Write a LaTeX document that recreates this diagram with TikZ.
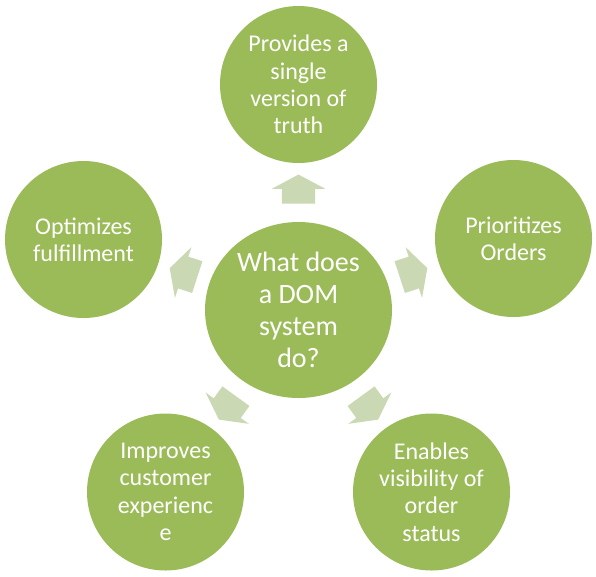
\documentclass[tikz,border=0pt]{standalone}
\usepackage{fontspec}
\setmainfont{Carlito}
\usetikzlibrary{shapes.geometric,shapes.arrows}
\definecolor{leafgreen}{HTML}{9BBB59}
\definecolor{palegreen}{HTML}{CAD9B3}
\begin{document}
\begin{tikzpicture}
[every node/.style={inner sep=0pt},
 outer/.style={circle, minimum size=157pt, fill=leafgreen, text=white, align=center, font=\fontsize{24}{27.3}\selectfont},
 hub/.style={ellipse, minimum width=187pt, minimum height=176pt, fill=leafgreen, text=white, align=center, font=\fontsize{28}{32}\selectfont},
 blockarrow/.style={single arrow, inner xsep=0pt, inner ysep=16.5pt, minimum height=29pt, single arrow head extend=10pt, single arrow tip angle=124, fill=palegreen}]
\useasboundingbox (0pt, 0pt) rectangle (596pt, -576pt);
\node (dom) [hub] at (298.5pt, -310.0pt) {What does\\a DOM\\system\\do?};
\node (truth) [outer] at (298.5pt, -84.5pt) {Provides a\\single\\version of\\truth};
\node (orders) [outer] at (513.5pt, -238.5pt) {Prioritizes\\Orders};
\node (status) [outer] at (431.5pt, -492.0pt) {Enables\\visibility of\\order\\status};
\node (customer) [outer] at (165.5pt, -492.0pt) {Improves\\customer\\experienc\\e};
\node (fulfil) [outer] at (83.5pt, -239.5pt) {Optimizes\\fulfillment};
\node (toTruth) [blockarrow, rotate=90] at (298.5pt, -193.5pt) {};
\node (toOrders) [blockarrow, rotate=18] at (409.3pt, -274.0pt) {};
\node (toStatus) [blockarrow, rotate=-54] at (367.0pt, -404.3pt) {};
\node (toCustomer) [blockarrow, rotate=234] at (230.0pt, -404.3pt) {};
\node (toFulfil) [blockarrow, rotate=162] at (187.7pt, -274.0pt) {};
\end{tikzpicture}
\end{document}
